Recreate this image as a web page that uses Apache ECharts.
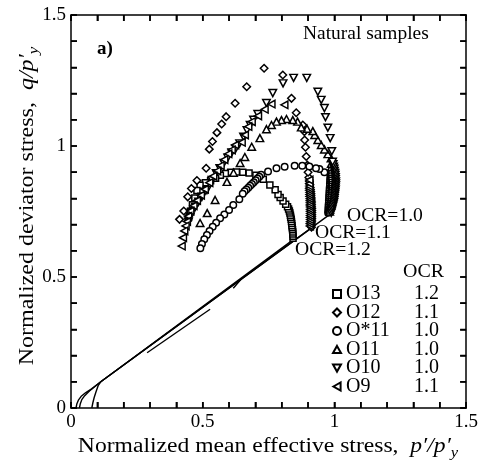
<!DOCTYPE html>
<html>
<head>
<meta charset="utf-8">
<script src="https://cdn.jsdelivr.net/npm/echarts@6/dist/echarts.min.js"></script>
<style>
  html, body { margin: 0; padding: 0; background: #fff; }
  #chart { width: 481px; height: 470px; }
</style>
</head>
<body>
<div id="chart"></div>
<script>
// Undrained stress paths of natural samples, normalized by yield stress p'y
const seriesNames = ['O13', 'O12', 'O*11', 'O11', 'O10', 'O9'];
const ocrValues = ['1.2', '1.1', '1.0', '1.0', '1.0', '1.1'];
const axisLabelValues = [0, 0.5, 1, 1.5];
const tickValues = [0, 0.1, 0.2, 0.3, 0.4, 0.5, 0.6, 0.7, 0.8, 0.9, 1.0, 1.1, 1.2, 1.3, 1.4, 1.5];

const o13 = [
  [0.843,0.648],[0.843,0.656],[0.842,0.664],[0.842,0.672],[0.841,0.680],[0.840,0.688],[0.839,0.696],
  [0.838,0.704],[0.837,0.712],[0.836,0.720],[0.834,0.728],[0.833,0.736],[0.831,0.744],[0.829,0.752],
  [0.826,0.760],[0.822,0.768],[0.815,0.778],[0.805,0.790],[0.794,0.803],[0.786,0.815],[0.775,0.833],
  [0.755,0.851],[0.730,0.873],[0.702,0.888],[0.676,0.897],[0.652,0.900],[0.628,0.901],[0.606,0.900],
  [0.586,0.895],[0.567,0.888],[0.549,0.877],[0.530,0.867],[0.510,0.860],[0.490,0.850],[0.478,0.830],
  [0.470,0.802],[0.461,0.776],[0.453,0.750],[0.445,0.725]
];
const o12 = [
  [0.913,0.690],[0.913,0.698],[0.913,0.706],[0.914,0.714],[0.914,0.722],[0.914,0.730],[0.914,0.738],
  [0.914,0.746],[0.914,0.754],[0.914,0.762],[0.913,0.770],[0.913,0.778],[0.913,0.786],[0.912,0.794],
  [0.912,0.802],[0.911,0.810],[0.911,0.818],[0.910,0.826],[0.909,0.834],[0.908,0.842],[0.907,0.852],
  [0.905,0.865],[0.903,0.880],[0.900,0.900],[0.897,0.927],[0.893,0.960],[0.890,0.995],[0.887,1.023],
  [0.886,1.055],[0.880,1.080],[0.855,1.127],[0.837,1.182],[0.804,1.271],[0.733,1.297],[0.667,1.226],
  [0.623,1.163],[0.589,1.112],[0.572,1.084],[0.554,1.051],[0.537,1.017],[0.525,0.988],[0.513,0.915],
  [0.478,0.868],[0.457,0.838],[0.443,0.806],[0.428,0.752],[0.412,0.720]
];
const oStar11 = [
  [0.976,0.745],[0.977,0.753],[0.977,0.761],[0.978,0.769],[0.978,0.777],[0.979,0.785],[0.979,0.793],
  [0.980,0.801],[0.980,0.809],[0.981,0.817],[0.981,0.825],[0.982,0.833],[0.982,0.841],[0.983,0.849],
  [0.983,0.857],[0.984,0.865],[0.984,0.873],[0.985,0.881],[0.985,0.889],[0.985,0.897],[0.962,0.900],
  [0.943,0.912],[0.930,0.915],[0.905,0.922],[0.878,0.925],[0.849,0.925],[0.811,0.921],[0.780,0.915],
  [0.748,0.903],[0.722,0.890],[0.715,0.883],[0.708,0.876],[0.701,0.869],[0.694,0.862],[0.687,0.855],
  [0.680,0.848],[0.673,0.841],[0.666,0.834],[0.659,0.827],[0.652,0.818],[0.639,0.797],[0.616,0.775],
  [0.600,0.756],[0.582,0.739],[0.566,0.724],[0.551,0.707],[0.538,0.692],[0.526,0.676],[0.516,0.660],
  [0.506,0.644],[0.497,0.626],[0.491,0.610]
];
const o11 = [
  [0.982,0.750],[0.983,0.758],[0.984,0.766],[0.985,0.774],[0.986,0.782],[0.987,0.790],[0.988,0.798],
  [0.989,0.806],[0.990,0.814],[0.990,0.822],[0.991,0.830],[0.991,0.838],[0.992,0.846],[0.992,0.854],
  [0.992,0.862],[0.992,0.870],[0.992,0.878],[0.991,0.886],[0.991,0.894],[0.990,0.902],[0.990,0.910],
  [0.989,0.920],[0.988,0.932],[0.987,0.953],[0.975,0.969],[0.962,0.987],[0.950,1.004],[0.937,1.023],
  [0.925,1.042],[0.918,1.057],[0.896,1.066],[0.874,1.071],[0.860,1.093],[0.842,1.099],[0.818,1.103],
  [0.799,1.099],[0.780,1.093],[0.761,1.080],[0.742,1.064],[0.717,1.030],[0.686,0.997],[0.660,0.958],
  [0.642,0.935],[0.617,0.898],[0.592,0.863],[0.547,0.794],[0.517,0.744],[0.490,0.706]
];
const o10 = [
  [0.988,0.745],[0.990,0.753],[0.992,0.761],[0.994,0.769],[0.996,0.777],[0.998,0.785],[0.999,0.793],
  [1.000,0.801],[1.001,0.809],[1.002,0.817],[1.003,0.825],[1.004,0.833],[1.004,0.841],[1.005,0.849],
  [1.005,0.857],[1.005,0.865],[1.004,0.873],[1.004,0.881],[1.003,0.889],[1.002,0.897],[1.000,0.905],
  [0.999,0.913],[0.997,0.921],[0.995,0.930],[0.993,0.940],[0.990,0.980],[0.984,1.030],[0.975,1.070],
  [0.966,1.110],[0.962,1.145],[0.950,1.176],[0.937,1.207],[0.895,1.260],[0.845,1.260],[0.805,1.239],
  [0.766,1.202],[0.742,1.164],[0.709,1.122],[0.693,1.100],[0.680,1.080],[0.668,1.060],[0.655,1.035],
  [0.640,1.010],[0.625,0.990],[0.610,0.975],[0.595,0.955],[0.580,0.935],[0.565,0.915],[0.551,0.896],
  [0.535,0.870],[0.516,0.832],[0.497,0.806],[0.484,0.787],[0.472,0.768],[0.459,0.749],[0.453,0.730],
  [0.446,0.711]
];
const o9 = [
  [0.907,0.695],[0.907,0.703],[0.908,0.711],[0.908,0.719],[0.908,0.727],[0.908,0.735],[0.908,0.743],
  [0.908,0.751],[0.908,0.759],[0.908,0.767],[0.907,0.775],[0.907,0.783],[0.907,0.791],[0.907,0.799],
  [0.906,0.807],[0.906,0.815],[0.906,0.823],[0.905,0.831],[0.905,0.839],[0.905,0.847],[0.905,0.857],
  [0.905,0.870],[0.810,1.157],[0.761,1.160],[0.735,1.140],[0.710,1.115],[0.686,1.093],[0.673,1.074],
  [0.660,1.042],[0.648,1.014],[0.623,1.004],[0.610,0.985],[0.597,0.970],[0.582,0.948],[0.568,0.925],
  [0.555,0.905],[0.540,0.885],[0.525,0.860],[0.508,0.835],[0.493,0.812],[0.478,0.792],[0.465,0.772],
  [0.453,0.752],[0.445,0.732],[0.440,0.712],[0.435,0.695],[0.430,0.676],[0.425,0.650],[0.420,0.618]
];

// Consolidation paths up to the start of shearing
const consolidation10 = [[0.019,0.0],[0.022,0.015],[0.028,0.030],[0.040,0.046],[0.055,0.058],[0.078,0.073],[0.113,0.100],[0.980,0.737]];
const consolidation11 = [[0.032,0.0],[0.035,0.015],[0.041,0.032],[0.052,0.047],[0.070,0.065],[0.113,0.100],[0.906,0.682]];
const consolidation12 = [[0.079,0.0],[0.083,0.020],[0.088,0.040],[0.095,0.062],[0.103,0.085],[0.113,0.100],[0.840,0.640]];
const segmentA = [[0.289,0.211],[0.528,0.377]];
const segmentB = [[0.616,0.457],[0.648,0.494]];

const serif = '"Liberation Serif", "DejaVu Serif", serif';
const black = '#000';
const AXIS_MIN = 0, AXIS_MAX = 1.5;
const GRID = { left: 71, top: 15, width: 397, height: 393 };
const TICK_PX = 6;

// Hollow marker outlines (white fill, black stroke)
const markerShapes = {
  'O13':  { symbol: 'rect', size: 6 },
  'O12':  { symbol: 'diamond', size: 7.5 },
  'O*11': { symbol: 'circle', size: 6.5 },
  'O11':  { symbol: 'path://M5,0 L10,9 L0,9 Z', size: [7.5, 7] },
  'O10':  { symbol: 'path://M0,0 L10,0 L5,9 Z', size: [7.5, 7] },
  'O9':   { symbol: 'path://M0,5 L9,0 L9,10 Z', size: [7, 7.5] }
};
const seriesData = { 'O13': o13, 'O12': o12, 'O*11': oStar11, 'O11': o11, 'O10': o10, 'O9': o9 };

const chart = echarts.init(document.getElementById('chart'), null, { renderer: 'canvas' });

function fmtLabel(v) {
  return axisLabelValues.some(t => Math.abs(t - v) < 1e-6) ? String(Math.round(v * 10) / 10) : '';
}

function makeAxis(position, withLabels) {
  return {
    type: 'value', min: AXIS_MIN, max: AXIS_MAX, interval: 0.1, position,
    axisLine: { show: true, onZero: false, lineStyle: { color: black, width: 1.5 } },
    axisTick: { show: true, inside: true, length: TICK_PX, interval: 0, lineStyle: { color: black, width: 1.5 } },
    splitLine: { show: false },
    axisLabel: withLabels
      ? { show: true, interval: 0, formatter: fmtLabel, color: black, fontFamily: serif, fontSize: 19, margin: 5, showMinLabel: true, showMaxLabel: true }
      : { show: false }
  };
}

const scatterSeries = seriesNames.map(name => ({
  name,
  type: 'scatter',
  data: seriesData[name],
  symbol: markerShapes[name].symbol,
  symbolSize: markerShapes[name].size,
  itemStyle: { color: '#fff', borderColor: black, borderWidth: 1.5, opacity: 1 },
  emphasis: { disabled: true },
  silent: true,
  z: 3
}));

function lineSeries(data, width) {
  return {
    type: 'line', data, showSymbol: false, symbol: 'none', silent: true, connectNulls: false,
    lineStyle: { color: black, width: width || 1.4 }, z: 2
  };
}

// Inward tick marks drawn as short broken line pieces along the four frame sides
const dx = TICK_PX * (AXIS_MAX - AXIS_MIN) / GRID.width;
const dy = TICK_PX * (AXIS_MAX - AXIS_MIN) / GRID.height;
const tickPath = [];
tickValues.forEach(v => {
  tickPath.push([v, AXIS_MIN], [v, AXIS_MIN + dy], [v, '-']);
  tickPath.push([v, AXIS_MAX], [v, AXIS_MAX - dy], [v, '-']);
  tickPath.push([AXIS_MIN, v], [AXIS_MIN + dx, v], [AXIS_MIN + dx, '-']);
  tickPath.push([AXIS_MAX, v], [AXIS_MAX - dx, v], [AXIS_MAX - dx, '-']);
});
const tickLineSeries = Object.assign(lineSeries(tickPath, 1.5), { z: 6, clip: false });

const ocrByName = {};
seriesNames.forEach((n, i) => { ocrByName[n] = ocrValues[i]; });

const titleRich = {
  i: { fontStyle: 'italic', fontFamily: serif, fontSize: 20, lineHeight: 26 },
  s: { fontStyle: 'italic', fontFamily: serif, fontSize: 14, lineHeight: 14, verticalAlign: 'bottom' }
};

chart.setOption({
  animation: false,
  backgroundColor: '#fff',
  grid: Object.assign({ containLabel: false }, GRID),
  xAxis: [makeAxis('bottom', true), makeAxis('top', false)],
  yAxis: [makeAxis('left', true), makeAxis('right', false)],
  legend: {
    data: seriesNames,
    orient: 'vertical',
    left: 327, top: 279,
    itemWidth: 8, itemHeight: 8, itemGap: -1.5,
    selectedMode: false,
    formatter: name => '{n|' + name + '}{v|' + ocrByName[name] + '}',
    textStyle: {
      color: black, fontFamily: serif, fontSize: 20,
      rich: {
        n: { width: 68, color: black, fontFamily: serif, fontSize: 20 },
        v: { color: black, fontFamily: serif, fontSize: 20 }
      }
    }
  },
  graphic: [
    { type: 'text', left: 97, top: 40, style: { text: 'a)', font: 'bold 19px ' + serif, fill: black } },
    { type: 'text', x: 303, y: 34, scaleX: 1.08, style: { text: 'Natural samples', font: '18px ' + serif, fill: black, verticalAlign: 'middle' } },
    { type: 'text', x: 347, y: 216, scaleX: 1.09, style: { text: 'OCR=1.0', font: '18px ' + serif, fill: black, verticalAlign: 'middle' } },
    { type: 'text', x: 315, y: 233, scaleX: 1.09, style: { text: 'OCR=1.1', font: '18px ' + serif, fill: black, verticalAlign: 'middle' } },
    { type: 'text', x: 295, y: 250, scaleX: 1.09, style: { text: 'OCR=1.2', font: '18px ' + serif, fill: black, verticalAlign: 'middle' } },
    { type: 'text', x: 403, y: 272, scaleX: 1.05, style: { text: 'OCR', font: '19px ' + serif, fill: black, verticalAlign: 'middle' } },
    {
      type: 'text', x: 268, y: 447, scaleX: 1.18,
      style: {
        text: 'Normalized mean effective stress,  {i|p′/p′}{s|y}',
        font: '20px ' + serif, fill: black, align: 'center', verticalAlign: 'middle', rich: titleRich
      }
    },
    {
      type: 'text', x: 28, y: 206, rotation: Math.PI / 2, scaleX: 1.2,
      style: {
        text: 'Normalized deviator stress,  {i|q/p′}{s|y}',
        font: '20px ' + serif, fill: black, align: 'center', verticalAlign: 'middle', rich: titleRich
      }
    }
  ],
  series: scatterSeries.concat([
    lineSeries(consolidation10),
    lineSeries(consolidation11),
    lineSeries(consolidation12),
    lineSeries(segmentA),
    lineSeries(segmentB),
    tickLineSeries
  ])
});
</script>
</body>
</html>
